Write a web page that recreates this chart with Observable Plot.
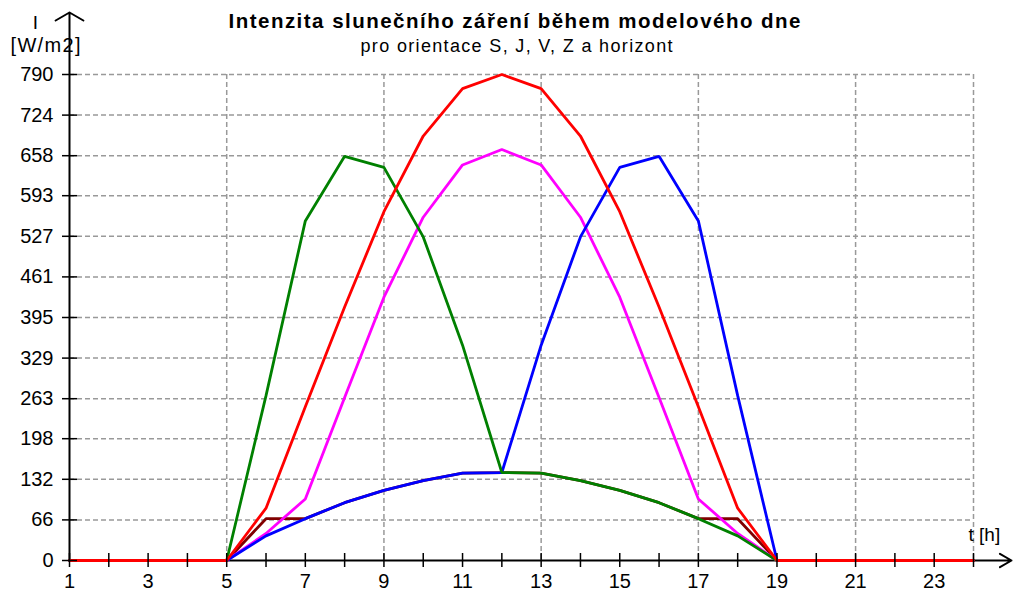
<!DOCTYPE html>
<html><head><meta charset="utf-8">
<script src="https://cdn.jsdelivr.net/npm/d3@7"></script>
<script src="https://cdn.jsdelivr.net/npm/@observablehq/plot@0.6"></script>
<style>body{margin:0;background:#fff;overflow:hidden}</style>
</head><body><div id="chart"></div>
<script>
// ---- data ----
const hours = [1,2,3,4,5,6,7,8,9,10,11,12,13,14,15,16,17,18,19,20,21,22,23,24];
const seriesNames = ["S", "horizont", "Z", "V", "J"]; // drawing order
const seriesColors = ["#800000", "#ff00ff", "#0000ff", "#008000", "#ff0000"];
const valuesS        = [0,0,0,0,0, 68, 68, 94,114,130,142,143,142,130,114, 94, 68, 68,0,0,0,0,0,0];
const valuesHorizont = [0,0,0,0,0, 44,100,265,428,558,643,668,643,558,428,265,100, 44,0,0,0,0,0,0];
const valuesZ        = [0,0,0,0,0, 40, 68, 94,114,130,142,143,350,526,639,657,552,268,0,0,0,0,0,0];
const valuesV        = [0,0,0,0,0,268,552,657,639,526,350,143,142,130,114, 94, 68, 40,0,0,0,0,0,0];
const valuesJ        = [0,0,0,0,0, 85,250,412,567,690,767,790,767,690,567,412,250, 85,0,0,0,0,0,0];
const seriesValues = [valuesS, valuesHorizont, valuesZ, valuesV, valuesJ];
const yTicks = [0,66,132,198,263,329,395,461,527,593,658,724,790];
const xLabelTicks = [1,3,5,7,9,11,13,15,17,19,21,23];
const xGridTicks = [5,9,13,17,21,24];
const titleText = "Intenzita slunečního záření během modelového dne";
const subtitleText = "pro orientace S, J, V, Z a horizont";
const yLabelTop = "I";
const yLabelUnit = "[W/m2]";
const xLabelText = "t [h]";

const rows = [];
seriesNames.forEach((s, k) => hours.forEach((h, i) => rows.push({hour: h, value: seriesValues[k][i], series: s})));

const font = "'Liberation Sans', Arial, sans-serif";
const gridStyle = {stroke: "#999999", strokeOpacity: 1, strokeWidth: 1.5, strokeDasharray: "5,3"};

const plot = Plot.plot({
  width: 1013, height: 591,
  marginLeft: 69, marginRight: 40, marginTop: 74, marginBottom: 31,
  style: {fontFamily: font, fontSize: "20px", color: "black", background: "white"},
  x: {domain: [hours[0], hours[hours.length - 1]]},
  y: {domain: [yTicks[0], yTicks[yTicks.length - 1]]},
  color: {domain: seriesNames, range: seriesColors},
  marks: [
    Plot.gridY(yTicks.slice(1), gridStyle),
    Plot.gridX(xGridTicks, gridStyle),
    // axis lines with arrows
    Plot.arrow([{a: hours[0], b: yTicks[0], c: yTicks[yTicks.length - 1]}], {
      x1: "a", y1: "b", x2: "a", y2: "c", insetEnd: -62, headAngle: 120, headLength: 12,
      stroke: "black", strokeWidth: 2
    }),
    Plot.arrow([{a: hours[0], b: hours[hours.length - 1], c: yTicks[0]}], {
      x1: "a", y1: "c", x2: "b", y2: "c", insetEnd: -38, headAngle: 60, headLength: 10,
      stroke: "black", strokeWidth: 2
    }),
    ...seriesNames.map(s => Plot.line(rows.filter(r => r.series === s), {
      x: "hour", y: "value", stroke: "series", strokeWidth: 2.8, strokeLinejoin: "miter"
    })),
    // tick marks crossing the axes
    Plot.ruleY(yTicks, {x1: hours[0], x2: hours[0], insetLeft: -7, insetRight: -8, stroke: "black", strokeWidth: 1.5}),
    Plot.ruleX(hours, {y1: yTicks[0], y2: yTicks[0], insetTop: -7, insetBottom: -7, stroke: "black", strokeWidth: 1.5}),
    Plot.axisY({ticks: yTicks, tickSize: 0, tickPadding: 16, tickFormat: d => String(d), fontSize: 20}),
    Plot.axisX({ticks: xLabelTicks, tickSize: 0, tickPadding: 13, tickFormat: d => String(d), fontSize: 20}),
    // texts
    Plot.text([titleText], {frameAnchor: "top", text: d => d, dx: -7, dy: -61, lineAnchor: "top", fontWeight: "bold", fontSize: 20.5}),
    Plot.text([subtitleText], {frameAnchor: "top", text: d => d, dx: -5, dy: -35, lineAnchor: "top", fontSize: 18}),
    Plot.text([yLabelTop], {frameAnchor: "top-left", text: d => d, textAnchor: "middle", dx: -34, dy: -59, lineAnchor: "top", fontSize: 19}),
    Plot.text([yLabelUnit], {frameAnchor: "top-left", text: d => d, textAnchor: "middle", dx: -24, dy: -37, lineAnchor: "top", fontSize: 20}),
    Plot.text([xLabelText], {frameAnchor: "bottom-right", text: d => d, dx: -5, dy: -33, textAnchor: "start", lineAnchor: "top", fontSize: 19})
  ]
});
document.getElementById("chart").appendChild(plot);
// stretch title/subtitle to the reference widths
plot.querySelectorAll("text").forEach(t => {
  if (t.textContent === titleText) { t.setAttribute("textLength", 572); t.setAttribute("lengthAdjust", "spacing"); }
  if (t.textContent === subtitleText) { t.setAttribute("textLength", 312); t.setAttribute("lengthAdjust", "spacing"); }
  if (t.textContent === yLabelUnit) { t.setAttribute("textLength", 70); t.setAttribute("lengthAdjust", "spacing"); }
});
</script></body></html>
